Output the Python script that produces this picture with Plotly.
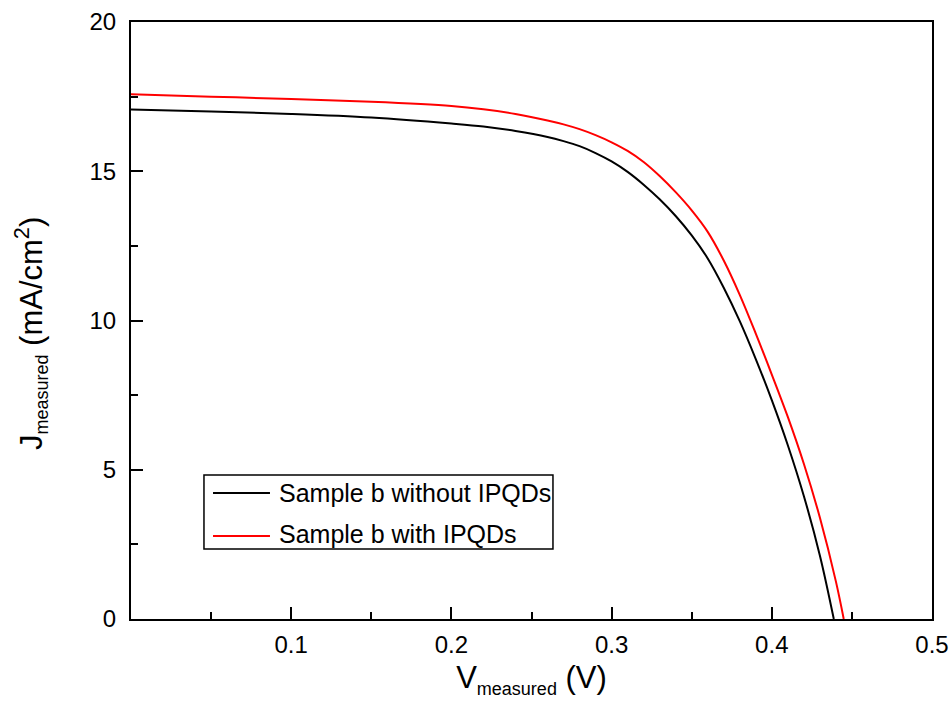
import plotly.graph_objects as go

# Sample b without IPQDs  (V in volts, J in mA/cm^2)
v_without = [0.0, 0.05, 0.10, 0.15, 0.20, 0.22, 0.24, 0.26, 0.27, 0.28, 0.29, 0.30,
             0.31, 0.32, 0.33, 0.34, 0.35, 0.36, 0.37, 0.38, 0.39, 0.40, 0.41, 0.42,
             0.43, 0.4387]
j_without = [17.07, 17.00, 16.92, 16.80, 16.60, 16.50, 16.35, 16.15, 16.01, 15.84, 15.61, 15.33,
             14.98, 14.55, 14.06, 13.50, 12.85, 12.08, 11.10, 9.98, 8.71, 7.33, 5.82, 4.12,
             2.13, 0.0]

# Sample b with IPQDs
v_with = [0.0, 0.05, 0.10, 0.15, 0.20, 0.22, 0.24, 0.26, 0.27, 0.28, 0.29, 0.30,
          0.31, 0.32, 0.33, 0.34, 0.35, 0.36, 0.37, 0.38, 0.39, 0.40, 0.41, 0.42,
          0.43, 0.44, 0.4449]
j_with = [17.58, 17.50, 17.42, 17.33, 17.19, 17.08, 16.92, 16.70, 16.57, 16.41, 16.21, 15.97,
          15.68, 15.31, 14.84, 14.30, 13.69, 12.97, 12.01, 10.86, 9.56, 8.19, 6.77, 5.20,
          3.40, 1.26, 0.0]

series_names = ["Sample b without IPQDs", "Sample b with IPQDs"]
series_colors = ["#000000", "#ff0000"]

x_ticks = [0.1, 0.2, 0.3, 0.4, 0.5]
y_ticks = [0, 5, 10, 15, 20]

FONT = "Liberation Sans, Arial, sans-serif"

fig = go.Figure()
for vx, jy, nm, col in [(v_without, j_without, series_names[0], series_colors[0]),
                        (v_with, j_with, series_names[1], series_colors[1])]:
    fig.add_trace(go.Scatter(x=vx, y=jy, mode="lines", name=nm, showlegend=False,
                             line=dict(color=col, width=2, shape="spline", smoothing=1.0)))

axis_common = dict(showgrid=False, zeroline=False, showline=True, linecolor="black",
                   linewidth=2, mirror=True, ticks="inside", ticklen=12, tickwidth=2,
                   tickcolor="black", automargin=False,
                   tickfont=dict(family=FONT, size=24, color="black"))

fig.update_xaxes(range=[0, 0.5], tickvals=x_ticks, ticktext=[str(t) for t in x_ticks],
                 minor=dict(ticks="inside", ticklen=7, tickwidth=2, tickcolor="black", dtick=0.05),
                 title=dict(text="V<sub><span style='font-size:18px'>measured</span></sub> (V)",
                            font=dict(family=FONT, size=31, color="black"), standoff=10),
                 ticklabelstandoff=3, **axis_common)
fig.update_yaxes(range=[0, 20], tickvals=y_ticks, ticktext=[str(t) for t in y_ticks],
                 minor=dict(ticks="inside", ticklen=7, tickwidth=2, tickcolor="black", dtick=2.5),
                 title=dict(text="J<sub><span style='font-size:18px'>measured</span></sub> (mA/cm<sup>2</sup>)&#160;&#160;&#160;",
                            font=dict(family=FONT, size=31, color="black"), standoff=38),
                 ticklabelstandoff=8, **axis_common)

# Legend drawn in plot-paper coordinates (box, line samples, labels)
legend_box = dict(x0=0.0911, x1=0.5268, y0=0.1173, y1=0.2412)
row_y = [0.2111, 0.1390]
line_x = [0.1024, 0.1735]
text_x = 0.1823

shapes = [dict(type="rect", xref="paper", yref="paper", **legend_box,
               line=dict(color="black", width=1.5), fillcolor="white", layer="above")]
annotations = []
for i, (nm, col) in enumerate(zip(series_names, series_colors)):
    shapes.append(dict(type="line", xref="paper", yref="paper",
                       x0=line_x[0], x1=line_x[1], y0=row_y[i], y1=row_y[i],
                       line=dict(color=col, width=2), layer="above"))
    annotations.append(dict(xref="paper", yref="paper", x=text_x, y=row_y[i] + (0.0 if i == 0 else 0.004),
                            xanchor="left", yanchor="middle", showarrow=False, text=nm,
                            font=dict(family=FONT, size=25, color="black")))

fig.update_layout(
    width=951, height=711,
    margin=dict(l=131, r=19, t=22, b=92),
    paper_bgcolor="white", plot_bgcolor="white",
    shapes=shapes, annotations=annotations,
)

fig.write_html("out.html")
